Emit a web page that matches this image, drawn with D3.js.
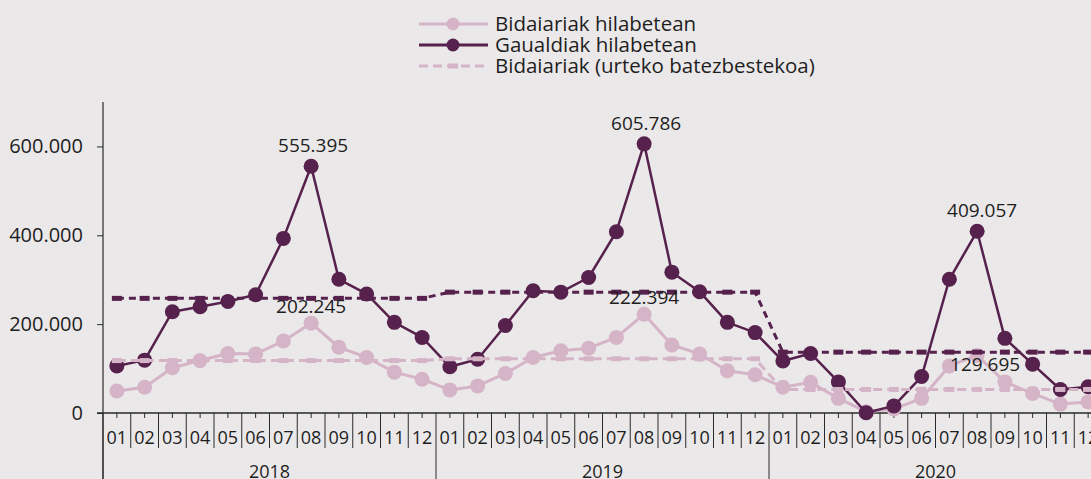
<!DOCTYPE html>
<html>
<head>
<meta charset="utf-8">
<script src="https://cdn.jsdelivr.net/npm/d3@7/dist/d3.min.js"></script>
<style>
  html, body { margin: 0; padding: 0; background: #ebe8e9; }
  svg { display: block; font-family: "Open Sans", "Noto Sans", sans-serif; }
</style>
</head>
<body>
<svg id="chart" width="1091" height="479"></svg>
<script>
// Monthly tourism figures, 2018-2020
const years = ["2018", "2019", "2020"];
const months = ["01","02","03","04","05","06","07","08","09","10","11","12"];

// Gaualdiak hilabetean (overnight stays per month)
const gaualdiak = [
  106000, 119000, 228000, 239000, 251000, 266000, 393000, 555395, 301000, 268000, 204000, 170000,
  104000, 121000, 197000, 275000, 272000, 305000, 408000, 605786, 317000, 273000, 204000, 181000,
  117000, 134000, 70000, 500, 16000, 82000, 301000, 409057, 168000, 110000, 53000, 59000
];

// Bidaiariak hilabetean (travellers per month)
const bidaiariak = [
  49500, 58000, 102000, 118000, 134000, 133000, 162000, 202245, 148000, 125000, 92000, 76000,
  52000, 61000, 89000, 125000, 140000, 146000, 170000, 222394, 153000, 133000, 95000, 86000,
  58000, 69000, 33000, 3000, 9000, 33000, 106000, 129695, 70000, 44000, 20000, 25000
];

// Yearly averages
const gaualdiakAvg = [258000, 272000, 137000];
const bidaiariakAvg = [118000, 122000, 53000];

const yTicks = [0, 200000, 400000, 600000];
const labelled = [7, 19, 31]; // August of each year

const legendLabels = ["Bidaiariak hilabetean", "Gaualdiak hilabetean", "Bidaiariak (urteko batezbestekoa)"];

const DARK = "#56214c";
const LIGHT = "#d5b4c7";
const INK = "#1e1e1e";
const AXIS = "#2a2a2a";

const svg = d3.select("#chart");
const W = 1091, H = 479;
svg.append("rect").attr("width", W).attr("height", H).attr("fill", "#ebe8e9");

const keys = [];
years.forEach(y => months.forEach(m => keys.push(y + "-" + m)));

const x = d3.scaleBand().domain(keys).range([103, 103 + 36 * 27.75]).padding(0);
const y = d3.scaleLinear().domain([0, 700000]).range([413, 102]);
const cx = i => x(keys[i]) + x.bandwidth() / 2;

const fmt = d3.formatLocale({ decimal: ",", thousands: ".", grouping: [3], currency: ["", ""] }).format(",d");

// ---- Y axis
const yAxis = svg.append("g").attr("transform", "translate(103,0)")
  .call(d3.axisLeft(y).tickValues(yTicks).tickSize(6).tickSizeOuter(0).tickPadding(14).tickFormat(fmt));
yAxis.select(".domain").remove();
yAxis.selectAll(".tick line").attr("stroke", AXIS);
yAxis.selectAll(".tick text").attr("font-size", 20).attr("fill", INK)
  .attr("font-family", "'Open Sans', 'Noto Sans', sans-serif");
svg.append("line").attr("x1", 103).attr("x2", 103).attr("y1", 102).attr("y2", H)
  .attr("stroke", AXIS).attr("stroke-width", 1.2);

// ---- X axis: baseline, month separators, centre ticks, year dividers
svg.append("line").attr("x1", 97).attr("x2", W).attr("y1", y(0)).attr("y2", y(0))
  .attr("stroke", AXIS).attr("stroke-width", 1.4);

const xg = svg.append("g");
keys.forEach((k, i) => {
  const left = x(k);
  const isYear = i % 12 === 0;
  xg.append("line").attr("x1", left).attr("x2", left)
    .attr("y1", y(0)).attr("y2", isYear ? H : 448)
    .attr("stroke", AXIS).attr("stroke-width", 1);
  xg.append("line").attr("x1", cx(i)).attr("x2", cx(i))
    .attr("y1", y(0)).attr("y2", y(0) + 5)
    .attr("stroke", AXIS).attr("stroke-width", 1);
  xg.append("text").attr("x", cx(i)).attr("y", 444)
    .attr("text-anchor", "middle").attr("font-size", 18).attr("fill", INK)
    .text(months[i % 12]);
});
years.forEach((yr, j) => {
  const mid = x(keys[j * 12]) + 6 * x.bandwidth();
  xg.append("text").attr("x", mid).attr("y", 478)
    .attr("text-anchor", "middle").attr("font-size", 18).attr("fill", INK).text(yr);
});

// ---- Series helpers
const line = d3.line().x((d, i) => cx(i)).y(d => y(d));
const monthlyAvg = avg => keys.map((k, i) => avg[Math.floor(i / 12)]);

function drawSeries(values, color, width, r) {
  svg.append("path").datum(values).attr("d", line)
    .attr("fill", "none").attr("stroke", color).attr("stroke-width", width)
    .attr("stroke-linejoin", "round");
  svg.append("g").selectAll("circle").data(values).join("circle")
    .attr("cx", (d, i) => cx(i)).attr("cy", d => y(d)).attr("r", r).attr("fill", color);
}

function drawAvg(avg, color, width, dash) {
  const vals = monthlyAvg(avg);
  svg.append("path").datum(vals).attr("d", line)
    .attr("fill", "none").attr("stroke", color).attr("stroke-width", width)
    .attr("stroke-dasharray", dash);
  svg.append("g").selectAll("rect").data(vals).join("rect")
    .attr("x", (d, i) => cx(i) - 5).attr("y", d => y(d) - 2.5)
    .attr("width", 10).attr("height", 5).attr("fill", color);
}

drawSeries(bidaiariak, LIGHT, 3, 7.5);
drawSeries(gaualdiak, DARK, 2.5, 7.5);
drawAvg(gaualdiakAvg, DARK, 3, "7,5");
drawAvg(bidaiariakAvg, LIGHT, 3, "9,5");

// ---- Value labels on the August peaks
const lab = svg.append("g").attr("font-size", 19).attr("fill", INK).attr("text-anchor", "middle");
labelled.forEach((i, j) => {
  lab.append("text").attr("x", cx(i) + (j === 2 ? 5 : 2)).attr("y", y(gaualdiak[i]) - 14)
    .text(fmt(gaualdiak[i]));
  const lastYear = j === 2;
  lab.append("text")
    .attr("x", cx(i) + (lastYear ? 8 : 0))
    .attr("y", lastYear ? y(bidaiariak[i]) + 16 : y(bidaiariak[i]) - 10)
    .text(fmt(bidaiariak[i]));
});

// ---- Legend
const lg = svg.append("g");
const rows = [24, 45, 66];
legendLabels.forEach((t, i) => {
  const ry = rows[i];
  const color = i === 1 ? DARK : LIGHT;
  const l = lg.append("line").attr("x1", 419).attr("x2", 488).attr("y1", ry).attr("y2", ry)
    .attr("stroke", color).attr("stroke-width", 3);
  if (i === 2) {
    l.attr("stroke-dasharray", "9,5");
    lg.append("rect").attr("x", 448).attr("y", ry - 2.5).attr("width", 10).attr("height", 5).attr("fill", color);
  } else {
    lg.append("circle").attr("cx", 453).attr("cy", ry).attr("r", 6.5).attr("fill", color);
  }
  lg.append("text").attr("x", 495).attr("y", ry).attr("dy", "0.35em")
    .attr("font-size", 20.5).attr("fill", INK).text(t);
});
</script>
</body>
</html>
